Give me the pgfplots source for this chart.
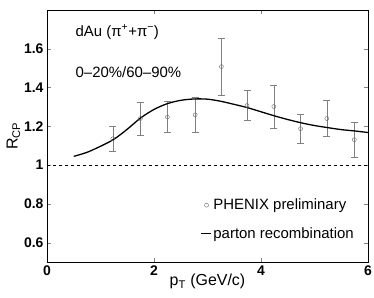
\documentclass[border=0pt]{standalone}
\usepackage{pgfplots}
\pgfplotsset{compat=1.18}
\usepackage{fontspec}
\setmainfont{Liberation Sans}
\begin{document}
\begin{tikzpicture}[font=\fontsize{15}{17}\selectfont]
\begin{axis}[name=ax,
  scale only axis, width=321bp, height=252bp,
  xmin=0, xmax=6, ymin=0.5, ymax=1.8,
  xtick={0,2,4,6}, ytick={0.6,0.8,1,1.2,1.4,1.6},
  tick align=inside, tick pos=both, major tick length=4bp,
  xticklabel={\bfseries\pgfmathprintnumber[assume math mode=true]{\tick}},
  yticklabel={\bfseries\pgfmathprintnumber[assume math mode=true]{\tick}},
  tick label style={font=\fontsize{14}{16}\selectfont\bfseries},
  xlabel={p\textsubscript{T} (GeV/c)},
  ylabel={R\textsubscript{CP}},
  label style={font=\fontsize{16}{18}\selectfont},
  xlabel style={yshift=8bp},
  ylabel style={yshift=-3bp},
  axis line style={line width=0.8pt},
  legend style={draw=none, fill=none, at={(axis cs:2.86,0.72)}, anchor=west,
    font=\fontsize{15}{17}\selectfont, row sep=12bp, inner sep=0pt},
  legend cell align=left,
]
\addplot[black!60, mark=o, mark size=2pt, only marks,
  error bars/.cd, y dir=both, y explicit,
  error bar style={gray, line width=0.6pt},
  error mark options={rotate=90, mark size=3.5pt, gray, line width=0.6pt}]
  coordinates {
  (1.23,1.136) +- (0,0.066)
  (1.745,1.240) +- (0,0.086)
  (2.25,1.248) +- (0,0.081)
  (2.77,1.259) +- (0,0.090)
  (3.26,1.508) +- (0,0.148)
  (3.74,1.307) +- (0,0.077)
  (4.24,1.302) +- (0,0.110)
  (4.74,1.188) +- (0,0.076)
  (5.23,1.240) +- (0,0.094)
  (5.745,1.131) +- (0,0.089)
  };
\addlegendentry{PHENIX preliminary}
\addplot[black, line width=1.3pt, smooth, legend image code/.code={\draw[line width=1.3pt] (0.1cm,0cm) -- (0.45cm,0cm);}]
  coordinates {
  (0.5,1.045) (0.75,1.066) (1.0,1.097) (1.25,1.133) (1.5,1.185) (1.75,1.243)
  (2.0,1.287) (2.25,1.317) (2.5,1.334) (2.75,1.341) (3.0,1.340) (3.25,1.329)
  (3.5,1.313) (3.75,1.296) (4.0,1.275) (4.25,1.254) (4.5,1.235) (4.75,1.218)
  (5.0,1.204) (5.25,1.193) (5.5,1.183) (5.75,1.176) (6.0,1.168)
  };
\addlegendentry{parton recombination}
\addplot[black, dashed, line width=0.8pt, forget plot] coordinates {(0,1) (6,1)};
\node[anchor=west, font=\fontsize{15}{17}\selectfont] at (axis cs:0.47,1.686) {dAu (π\textsuperscript{+}+π\textsuperscript{−})};
\node[anchor=west, font=\fontsize{15}{17}\selectfont] at (axis cs:0.47,1.48) {0–20\%/60–90\%};
\end{axis}
\pgfresetboundingbox
\path ([xshift=-47bp,yshift=-36bp]ax.south west) rectangle ([xshift=6bp,yshift=10bp]ax.north east);
\end{tikzpicture}
\end{document}
